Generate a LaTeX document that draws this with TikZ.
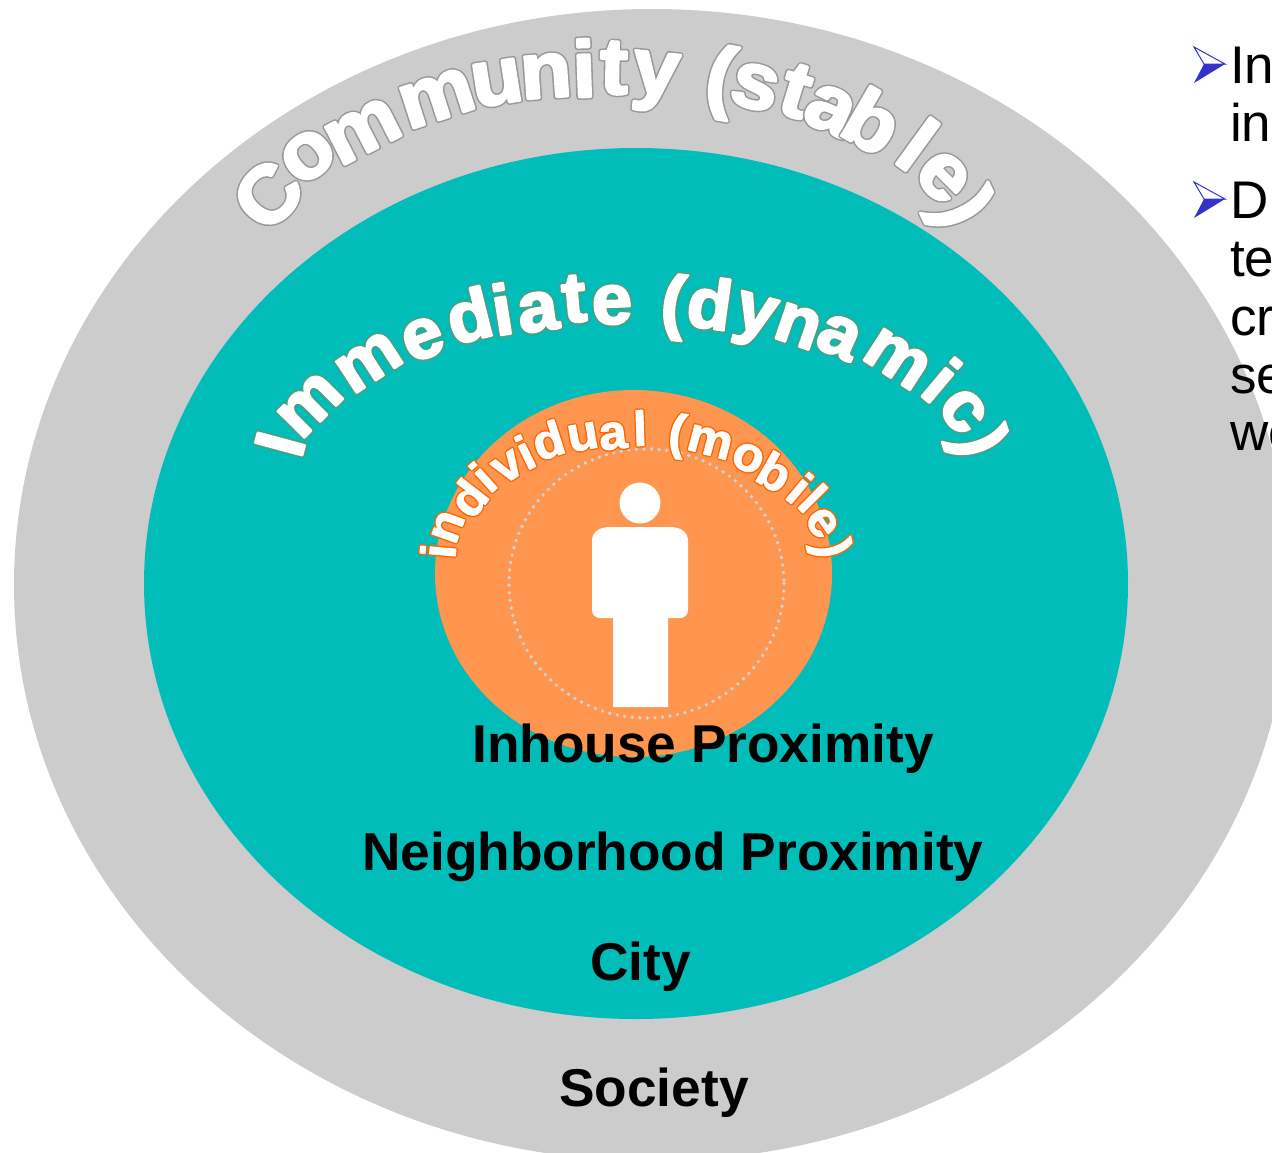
\documentclass[tikz,border=0pt]{standalone}
\usepackage{fontspec}
\usepackage{graphicx}
\setmainfont{Liberation Sans}
\definecolor{ringgray}{HTML}{CCCCCC}
\definecolor{ringteal}{HTML}{00BDB9}
\definecolor{ringorange}{HTML}{FF9650}
\definecolor{bulletblue}{HTML}{3333CC}
\definecolor{dotgray}{HTML}{D2D2D2}
\newcounter{wlc}
% stroked glyph: #1 size, #2 x stretch, #3 stroke rgb, #4 stroke width, #5 glyph
\newcommand\strokeglyph[5]{{\fontsize{#1}{#1}\selectfont\bfseries\color{white}\scalebox{#2}[1]{\special{pdf:code #3 RG 1 j 2 Tr #4 w}#5\special{pdf:code 0 Tr}}}}
\newcommand\wlCb[1]{\strokeglyph{80}{1.05}{0.6 0.6 0.6}{5.6}{#1}}
\newcommand\wlCf[1]{\strokeglyph{80}{1.05}{1 1 1}{2.6}{#1}}
\newcommand\wlIb[1]{\strokeglyph{71}{1.02}{0.31 0.62 0.49}{5.2}{#1}}
\newcommand\wlIf[1]{\strokeglyph{71}{1.02}{1 1 1}{2.2}{#1}}
\newcommand\wlMb[1]{\strokeglyph{49}{1.03}{1 0.4 0}{3.8}{#1}}
\newcommand\wlMf[1]{\strokeglyph{49}{1.03}{1 1 1}{1.0}{#1}}
\newcommand\wl[5]{\stepcounter{wlc}%
  \node[inner sep=0pt,outer sep=0pt,rotate=#5] (wlb\thewlc) at (#3,#4) {\csname wl#1b\endcsname{#2}};%
  \node[inner sep=0pt,outer sep=0pt,rotate=#5] (wlf\thewlc) at (#3,#4) {\csname wl#1f\endcsname{#2}};}
\newcommand\bulletmark[2]{%
  \begin{scope}[shift={(#1,#2)}]
    \draw[bulletblue,line width=1pt,fill=white,line join=miter] (0,-17) -- (31,0) -- (10,0) -- cycle;
    \fill[bulletblue] (0,19) -- (31,0) -- (10,0) -- cycle;
  \end{scope}}
\tikzset{
  proxlabel/.style={anchor=base west,inner sep=0pt,font=\fontsize{53.25}{53.25}\selectfont\bfseries,text=black},
  sidetext/.style={anchor=base west,inner sep=0pt,font=\fontsize{53}{53}\selectfont,text=black},
  dotring/.style={draw=dotgray,line width=3.8pt,line cap=round,dash pattern=on 0pt off 7.6pt}
}
\begin{document}
\begin{tikzpicture}[x=1pt,y=-1pt]
\clip (0,0) rectangle (1272,1152);
\fill[white] (0,0) rectangle (1272,1152);
\fill[ringgray] (652,585) ellipse [x radius=638,y radius=576];
\fill[ringteal] (636,583.5) ellipse [x radius=492,y radius=435.5];
\fill[ringorange] (633.5,573.5) ellipse [x radius=198.5,y radius=183.5];
\draw[dotring] (646.5,583.5) ellipse [x radius=137.5,y radius=134.5];
% person
\fill[white] (640,503) circle [radius=20.5];
\fill[white] (613,707) -- (613,618) -- (600,618) .. controls (596,618) and (592,615) .. (592,610) -- (592,541) .. controls (592,533) and (598,527) .. (610,527) -- (670,527) .. controls (682,527) and (688,533) .. (688,541) -- (688,610) .. controls (688,615) and (684,618) .. (680,618) -- (668,618) -- (668,707) -- cycle;
% Community (stable)
\wl{C}{C}{268}{195}{48}
\wl{C}{o}{308}{156}{38}
\wl{C}{m}{363}{131}{27}
\wl{C}{m}{437}{98}{18}
\wl{C}{u}{497}{83}{9}
\wl{C}{n}{546}{76}{4}
\wl{C}{i}{584}{68}{2}
\wl{C}{t}{614}{68}{-1}
\wl{C}{y}{655}{82}{-6}
\wl{C}{(}{720}{82}{-10}
\wl{C}{s}{755}{87}{-14}
\wl{C}{t}{796}{91}{-17}
\wl{C}{a}{830}{110}{-24}
\wl{C}{b}{873}{121}{-30}
\wl{C}{l}{918}{144}{-36}
\wl{C}{e}{943}{177}{-45}
\wl{C}{)}{960}{210}{-65}
% Immediate (dynamic)
\wl{I}{I}{280}{444}{75}
\wl{I}{m}{310}{405}{45}
\wl{I}{m}{369}{362}{33}
\wl{I}{e}{423}{339}{20}
\wl{I}{d}{469}{315}{14}
\wl{I}{i}{502}{309}{9}
\wl{I}{a}{538}{312}{8}
\wl{I}{t}{574}{299}{5}
\wl{I}{e}{612}{305}{2}
\wl{I}{(}{673}{307}{-6}
\wl{I}{d}{710}{303}{-8}
\wl{I}{y}{754}{321}{-15}
\wl{I}{n}{798}{326}{-19}
\wl{I}{a}{839}{337}{-24}
\wl{I}{m}{897}{359}{-33}
\wl{I}{i}{942}{380}{-40}
\wl{I}{c}{963}{411}{-50}
\wl{I}{)}{977}{443}{-72}
% individual (mobile)
\wl{M}{i}{438}{551}{85}
\wl{M}{n}{448}{527}{70}
\wl{M}{d}{468}{498}{52}
\wl{M}{i}{483}{477}{42}
\wl{M}{v}{508}{467}{33}
\wl{M}{i}{525}{452}{26}
\wl{M}{d}{548}{440}{18}
\wl{M}{u}{583}{437}{10}
\wl{M}{a}{613}{436}{6}
\wl{M}{l}{640}{428}{2}
\wl{M}{(}{677}{436}{-8}
\wl{M}{m}{710}{442}{-15}
\wl{M}{o}{748}{458}{-25}
\wl{M}{b}{775}{472}{-30}
\wl{M}{i}{800}{488}{-40}
\wl{M}{l}{813}{498}{-45}
\wl{M}{e}{822}{523}{-55}
\wl{M}{)}{830}{549}{-78}
% labels
\node[proxlabel] (inhouse) at (472,762) {Inhouse Proximity};
\node[proxlabel] (neigh) at (362,870) {Neighborhood Proximity};
\node[proxlabel] (city) at (590,980) {City};
\node[proxlabel] (society) at (559,1106) {Society};
% clipped side text
\bulletmark{1194}{64}
\bulletmark{1194}{199}
\node[sidetext] (s1) at (1230,83) {In};
\node[sidetext] (s2) at (1230,141) {in};
\node[sidetext] (s3) at (1230,218) {D};
\node[sidetext] (s4) at (1230,276) {te};
\node[sidetext] (s5) at (1230,335) {cr};
\node[sidetext] (s6) at (1230,393) {se};
\node[sidetext] (s7) at (1230,450) {we};
\end{tikzpicture}
\end{document}
